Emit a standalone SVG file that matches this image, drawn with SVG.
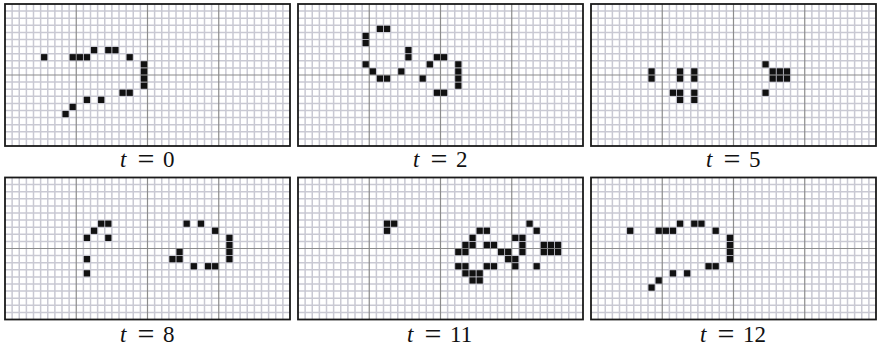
<svg xmlns="http://www.w3.org/2000/svg" width="877" height="349" viewBox="0 0 877 349">
<style>
.lt{stroke:#c9c9d3;stroke-width:1.5;fill:none}
.dk{stroke:#8c8c8c;stroke-width:1.2;fill:none}
.bd{stroke:#1a1a1a;stroke-width:1.8;fill:none}
.on{fill:#111}
.lbl{font-family:"Liberation Serif","Times New Roman",serif;font-size:23px;fill:#111}
.it{font-style:italic}
.eq{font-size:30px}
</style>
<defs>
<g id="grid">
<rect width="285" height="142" fill="#fff"/>
<path class="lt" d="M7.125 0V142M14.25 0V142M21.375 0V142M28.5 0V142M35.625 0V142M42.75 0V142M49.875 0V142M57 0V142M64.125 0V142M78.375 0V142M85.5 0V142M92.625 0V142M99.75 0V142M106.875 0V142M114 0V142M121.125 0V142M128.25 0V142M135.375 0V142M149.625 0V142M156.75 0V142M163.875 0V142M171 0V142M178.125 0V142M185.25 0V142M192.375 0V142M199.5 0V142M206.625 0V142M220.875 0V142M228 0V142M235.125 0V142M242.25 0V142M249.375 0V142M256.5 0V142M263.625 0V142M270.75 0V142M277.875 0V142M0 7.1H285M0 14.2H285M0 21.3H285M0 28.4H285M0 35.5H285M0 42.6H285M0 49.7H285M0 56.8H285M0 63.9H285M0 78.1H285M0 85.2H285M0 92.3H285M0 99.4H285M0 106.5H285M0 113.6H285M0 120.7H285M0 127.8H285M0 134.9H285"/>
<path class="dk" d="M71.25 0V142M142.5 0V142M213.75 0V142M0 71H285"/>
<rect class="bd" width="285" height="142"/>
</g>
<rect id="c" class="on" width=".88" height=".883"/>
</defs>

<g id="panel-t0" transform="translate(5,4)">
<use href="#grid"/>
<g transform="translate(0.43,0.42) scale(7.125,7.1)">
<use href="#c" x="5" y="7"/><use href="#c" x="9" y="7"/><use href="#c" x="10" y="7"/><use href="#c" x="11" y="7"/><use href="#c" x="12" y="6"/><use href="#c" x="14" y="6"/><use href="#c" x="15" y="6"/><use href="#c" x="17" y="7"/><use href="#c" x="19" y="8"/><use href="#c" x="19" y="9"/><use href="#c" x="19" y="10"/><use href="#c" x="19" y="11"/><use href="#c" x="16" y="12"/><use href="#c" x="17" y="12"/><use href="#c" x="11" y="13"/><use href="#c" x="13" y="13"/><use href="#c" x="9" y="14"/><use href="#c" x="8" y="15"/>
</g>
</g>

<g id="panel-t2" transform="translate(298,4)">
<use href="#grid"/>
<g transform="translate(0.43,0.42) scale(7.125,7.1)">
<use href="#c" x="11" y="3"/><use href="#c" x="12" y="3"/><use href="#c" x="9" y="4"/><use href="#c" x="9" y="5"/><use href="#c" x="15" y="6"/><use href="#c" x="15" y="7"/><use href="#c" x="19" y="7"/><use href="#c" x="20" y="7"/><use href="#c" x="9" y="8"/><use href="#c" x="18" y="8"/><use href="#c" x="10" y="9"/><use href="#c" x="14" y="9"/><use href="#c" x="11" y="10"/><use href="#c" x="12" y="10"/><use href="#c" x="17" y="10"/><use href="#c" x="19" y="12"/><use href="#c" x="20" y="12"/><use href="#c" x="22" y="8"/><use href="#c" x="22" y="9"/><use href="#c" x="22" y="10"/><use href="#c" x="22" y="11"/>
</g>
</g>

<g id="panel-t5" transform="translate(591,4)">
<use href="#grid"/>
<g transform="translate(0.43,0.42) scale(7.125,7.1)">
<use href="#c" x="8" y="9"/><use href="#c" x="8" y="10"/><use href="#c" x="12" y="9"/><use href="#c" x="12" y="10"/><use href="#c" x="14" y="9"/><use href="#c" x="14" y="10"/><use href="#c" x="11" y="12"/><use href="#c" x="12" y="12"/><use href="#c" x="12" y="13"/><use href="#c" x="14" y="12"/><use href="#c" x="14" y="13"/><use href="#c" x="24" y="8"/><use href="#c" x="25" y="9"/><use href="#c" x="26" y="9"/><use href="#c" x="27" y="9"/><use href="#c" x="25" y="10"/><use href="#c" x="26" y="10"/><use href="#c" x="27" y="10"/><use href="#c" x="24" y="12"/>
</g>
</g>

<g id="panel-t8" transform="translate(5,177.5)">
<use href="#grid"/>
<g transform="translate(0.43,0.42) scale(7.125,7.1)">
<use href="#c" x="13" y="6"/><use href="#c" x="14" y="6"/><use href="#c" x="12" y="7"/><use href="#c" x="11" y="8"/><use href="#c" x="14" y="8"/><use href="#c" x="11" y="11"/><use href="#c" x="11" y="13"/><use href="#c" x="25" y="6"/><use href="#c" x="27" y="6"/><use href="#c" x="29" y="7"/><use href="#c" x="31" y="8"/><use href="#c" x="31" y="9"/><use href="#c" x="31" y="10"/><use href="#c" x="31" y="11"/><use href="#c" x="24" y="10"/><use href="#c" x="23" y="11"/><use href="#c" x="24" y="11"/><use href="#c" x="26" y="12"/><use href="#c" x="28" y="12"/><use href="#c" x="29" y="12"/>
</g>
</g>

<g id="panel-t11" transform="translate(298,177.5)">
<use href="#grid"/>
<g transform="translate(0.43,0.42) scale(7.125,7.1)">
<use href="#c" x="12" y="6"/><use href="#c" x="13" y="6"/><use href="#c" x="12" y="7"/><use href="#c" x="32" y="6"/><use href="#c" x="25" y="7"/><use href="#c" x="26" y="7"/><use href="#c" x="33" y="7"/><use href="#c" x="24" y="8"/><use href="#c" x="30" y="8"/><use href="#c" x="31" y="8"/><use href="#c" x="23" y="9"/><use href="#c" x="24" y="9"/><use href="#c" x="26" y="9"/><use href="#c" x="27" y="9"/><use href="#c" x="31" y="9"/><use href="#c" x="34" y="9"/><use href="#c" x="35" y="9"/><use href="#c" x="36" y="9"/><use href="#c" x="22" y="10"/><use href="#c" x="23" y="10"/><use href="#c" x="28" y="10"/><use href="#c" x="29" y="10"/><use href="#c" x="31" y="10"/><use href="#c" x="34" y="10"/><use href="#c" x="35" y="10"/><use href="#c" x="36" y="10"/><use href="#c" x="29" y="11"/><use href="#c" x="30" y="11"/><use href="#c" x="22" y="12"/><use href="#c" x="23" y="12"/><use href="#c" x="26" y="12"/><use href="#c" x="27" y="12"/><use href="#c" x="30" y="12"/><use href="#c" x="33" y="12"/><use href="#c" x="23" y="13"/><use href="#c" x="24" y="13"/><use href="#c" x="25" y="13"/><use href="#c" x="24" y="14"/><use href="#c" x="25" y="14"/>
</g>
</g>

<g id="panel-t12" transform="translate(591,177.5)">
<use href="#grid"/>
<g transform="translate(0.43,0.42) scale(7.125,7.1)">
<use href="#c" x="5" y="7"/><use href="#c" x="9" y="7"/><use href="#c" x="10" y="7"/><use href="#c" x="11" y="7"/><use href="#c" x="12" y="6"/><use href="#c" x="14" y="6"/><use href="#c" x="15" y="6"/><use href="#c" x="17" y="7"/><use href="#c" x="19" y="8"/><use href="#c" x="19" y="9"/><use href="#c" x="19" y="10"/><use href="#c" x="19" y="11"/><use href="#c" x="16" y="12"/><use href="#c" x="17" y="12"/><use href="#c" x="11" y="13"/><use href="#c" x="13" y="13"/><use href="#c" x="9" y="14"/><use href="#c" x="8" y="15"/>
</g>
</g>

<g id="labels">
<text class="lbl" y="167"><tspan class="it" x="120">t</tspan><tspan class="eq" x="137.5" dy="1.5">=</tspan><tspan x="163" dy="-1.5">0</tspan></text>
<text class="lbl" y="167"><tspan class="it" x="413">t</tspan><tspan class="eq" x="430.5" dy="1.5">=</tspan><tspan x="456" dy="-1.5">2</tspan></text>
<text class="lbl" y="167"><tspan class="it" x="706">t</tspan><tspan class="eq" x="723.5" dy="1.5">=</tspan><tspan x="749" dy="-1.5">5</tspan></text>
<text class="lbl" y="342"><tspan class="it" x="120">t</tspan><tspan class="eq" x="137.5" dy="1.5">=</tspan><tspan x="163" dy="-1.5">8</tspan></text>
<text class="lbl" y="342"><tspan class="it" x="407">t</tspan><tspan class="eq" x="424.5" dy="1.5">=</tspan><tspan x="450" dy="-1.5">11</tspan></text>
<text class="lbl" y="342"><tspan class="it" x="700">t</tspan><tspan class="eq" x="717.5" dy="1.5">=</tspan><tspan x="743" dy="-1.5">12</tspan></text>
</g>
</svg>
